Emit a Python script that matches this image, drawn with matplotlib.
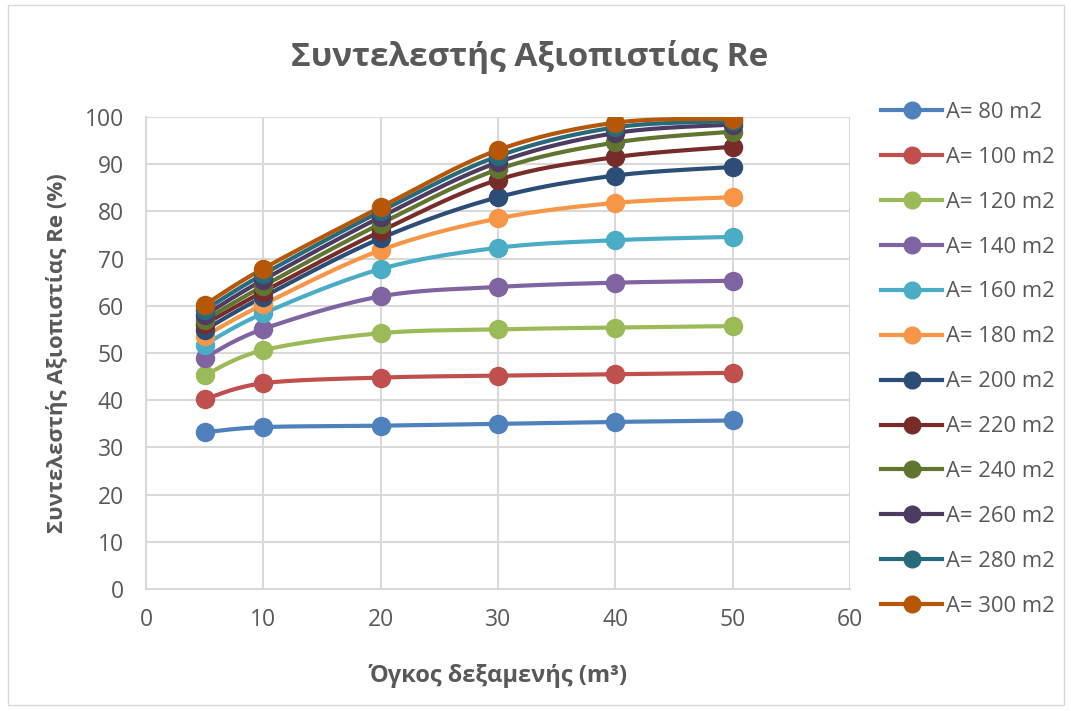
import numpy as np
import matplotlib
matplotlib.use("Agg")
import matplotlib.pyplot as plt
from matplotlib.patches import Rectangle

plt.rcParams['font.family'] = ['Open Sans', 'DejaVu Sans']

# Tank volume (m3)
volumes = [5, 10, 20, 30, 40, 50]

series_labels = ["A= 80 m2", "A= 100 m2", "A= 120 m2", "A= 140 m2", "A= 160 m2", "A= 180 m2",
                 "A= 200 m2", "A= 220 m2", "A= 240 m2", "A= 260 m2", "A= 280 m2", "A= 300 m2"]

# Reliability coefficient Re (%) per roof area
re_80 = [33.2, 34.3, 34.6, 35.0, 35.4, 35.7]
re_100 = [40.2, 43.6, 44.8, 45.2, 45.5, 45.8]
re_120 = [45.3, 50.6, 54.2, 55.0, 55.4, 55.7]
re_140 = [49.0, 55.1, 62.0, 64.0, 64.9, 65.3]
re_160 = [51.8, 58.4, 67.8, 72.3, 73.9, 74.6]
re_180 = [53.6, 60.3, 71.8, 78.5, 81.8, 83.0]
re_200 = [54.9, 61.9, 74.3, 83.0, 87.6, 89.4]
re_220 = [56.1, 63.0, 75.8, 86.7, 91.5, 93.7]
re_240 = [57.0, 64.2, 77.4, 88.9, 94.6, 96.9]
re_260 = [58.0, 65.5, 78.8, 90.4, 96.6, 98.4]
re_280 = [59.1, 66.7, 80.0, 91.7, 97.8, 99.1]
re_300 = [60.2, 67.9, 80.9, 93.0, 98.8, 99.6]

all_series = [re_80, re_100, re_120, re_140, re_160, re_180,
              re_200, re_220, re_240, re_260, re_280, re_300]

colors = ["#4F81BD", "#C0504D", "#9BBB59", "#8064A2", "#4BACC6", "#F79646",
          "#2C4D75", "#772C2A", "#5F7530", "#4D3B62", "#276A7C", "#B65708"]

x_ticks = [0, 10, 20, 30, 40, 50, 60]
y_ticks = [0, 10, 20, 30, 40, 50, 60, 70, 80, 90, 100]

TEXT = "#595959"
GRID = "#D9D9D9"


def smooth_path(xs, ys, samples=30):
    """Cardinal (Catmull-Rom style) Bezier smoothing through the points."""
    p = np.column_stack([xs, ys]).astype(float)
    n = len(p)
    out = [p[0]]
    t = np.linspace(0, 1, samples)[1:, None]
    for i in range(n - 1):
        p_prev = p[max(i - 1, 0)]
        p_next2 = p[min(i + 2, n - 1)]
        c1 = p[i] + (p[i + 1] - p_prev) / 6.0
        c2 = p[i + 1] - (p_next2 - p[i]) / 6.0
        seg = ((1 - t) ** 3) * p[i] + 3 * ((1 - t) ** 2) * t * c1 \
            + 3 * (1 - t) * t ** 2 * c2 + t ** 3 * p[i + 1]
        out.extend(seg)
    out = np.array(out)
    return out[:, 0], out[:, 1]


fig = plt.figure(figsize=(10.71, 7.11), dpi=100)
ax = fig.add_axes([146 / 1071, 1 - 589 / 711, (850 - 146) / 1071, (589 - 117) / 711])

handles = []
for vals, col, lab in zip(all_series, colors, series_labels):
    sx, sy = smooth_path(volumes, vals)
    ax.plot(sx, sy, color=col, lw=3.0, solid_capstyle='round', zorder=3)
    ax.plot(volumes, vals, linestyle='none', marker='o', markersize=13,
            color=col, zorder=4)
    h, = ax.plot([], [], color=col, lw=3.0, marker='o', markersize=12)
    h.set_label(lab)
    handles.append(h)

ax.set_xlim(0, 60)
ax.set_ylim(0, 100)
ax.set_xticks(x_ticks)
ax.set_yticks(y_ticks)
ax.grid(True, color=GRID, lw=1.5, zorder=0)
ax.set_axisbelow(True)
for side in ['top', 'right']:
    ax.spines[side].set_visible(False)
for side in ['left', 'bottom']:
    ax.spines[side].set_color(GRID)
    ax.spines[side].set_linewidth(1.5)
ax.tick_params(length=0, labelsize=16.5, colors=TEXT)
ax.tick_params(axis='y', pad=16)
ax.tick_params(axis='x', pad=14)

ax.set_xlabel("Όγκος δεξαμενής (m³)", fontsize=17, fontweight='bold', color=TEXT, labelpad=23)
ax.set_ylabel("Συντελεστής Αξιοπιστίας Re (%)", fontsize=16, fontweight='bold', color=TEXT, labelpad=12)

fig.text(530 / 1071, 1 - 57 / 711, "Συντελεστής Αξιοπιστίας Re", ha='center', va='center',
         fontsize=24, fontweight='bold', color=TEXT)

leg = fig.legend(handles=handles, loc='upper left', bbox_to_anchor=(872 / 1071, 1 - 93 / 711),
                 frameon=False, fontsize=15.8, labelcolor=TEXT, handlelength=2.8,
                 handletextpad=0.15, labelspacing=1.09, borderaxespad=0)

fig.patches.append(Rectangle((8 / 1071, 6 / 711), 1056 / 1071, 700 / 711,
                             transform=fig.transFigure, fill=False,
                             edgecolor=GRID, lw=1.0))

fig.savefig("out.png", dpi=100)
